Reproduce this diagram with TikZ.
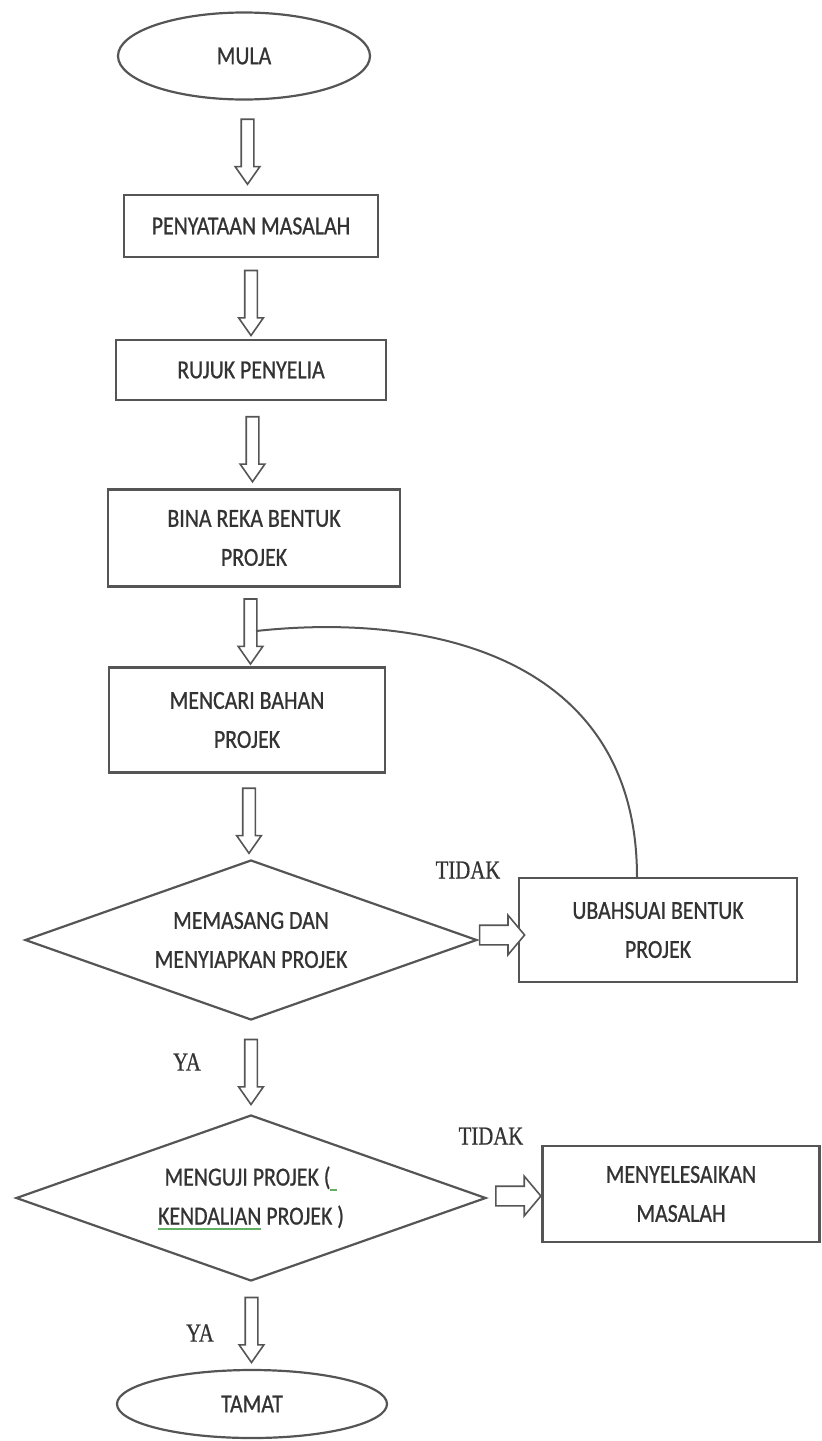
\documentclass[tikz,border=0pt]{standalone}
\usepackage{fontspec}
\setmainfont{Carlito}[FakeStretch=0.84,FakeBold=0.8]
\newfontfamily\lblfont{Liberation Serif}[FakeStretch=0.8,FakeBold=0.6]
\usetikzlibrary{shapes.geometric,shapes.arrows,calc}
\definecolor{linegray}{HTML}{555555}
\definecolor{txtgray}{HTML}{333333}
\definecolor{spellgreen}{HTML}{62B062}
\newsavebox{\spellbox}
\newcommand{\spellul}[1]{\sbox\spellbox{#1}\rlap{\color{spellgreen}\rule[-5pt]{\wd\spellbox}{1.3pt}}\usebox\spellbox}
\begin{document}
\begin{tikzpicture}[x=1pt,y=-1pt,
        flowbox/.style={draw=linegray,line width=2.2pt,text=txtgray,
            font=\fontsize{26}{39}\selectfont,align=center,inner sep=0pt},
        startstop/.style={flowbox,ellipse},
        process/.style={flowbox,rectangle},
        decision/.style={flowbox,diamond,aspect=2.83},
        dnarrow/.style={single arrow,draw=linegray,line width=1.6pt,fill=white,
            inner sep=5.5pt,minimum width=23pt,single arrow head extend=6pt,
            minimum height=65pt,single arrow tip angle=70,rotate=-90},
        rtarrow/.style={single arrow,draw=linegray,line width=1.6pt,fill=white,
            inner sep=9pt,minimum width=38pt,single arrow head extend=10pt,
            minimum height=45pt,single arrow tip angle=100},
        lbl/.style={text=black!80,font=\lblfont\fontsize{26}{30}\selectfont}]
\useasboundingbox (0,0) rectangle (822,1441);

\node[startstop,minimum width=252pt,minimum height=87pt] (mula) at (244,56) {MULA};
\node[process,minimum width=254pt,minimum height=62pt] (masalah) at (251,226) {PENYATAAN MASALAH};
\node[process,minimum width=270pt,minimum height=60pt] (rujuk) at (251,370) {RUJUK PENYELIA};
\node[process,minimum width=292pt,minimum height=97pt] (reka) at (254,538) {BINA REKA BENTUK\\PROJEK};
\node[process,minimum width=276pt,minimum height=105pt] (bahan) at (247,720) {MENCARI BAHAN\\PROJEK};
\node[decision,minimum width=452pt,minimum height=160pt] (pasang) at (251,940) {MEMASANG DAN\\MENYIAPKAN PROJEK};
\node[process,minimum width=278pt,minimum height=104pt] (ubah) at (658,930) {UBAHSUAI BENTUK\\PROJEK};
\node[decision,minimum width=470pt,minimum height=166pt] (uji) at (251,1198)
    {MENGUJI PROJEK (\spellul{\hspace{7pt}}\\\spellul{KENDALIAN} PROJEK )};
\node[process,minimum width=277pt,minimum height=96pt] (selesai) at (681,1194) {MENYELESAIKAN\\MASALAH};
\node[startstop,minimum width=270pt,minimum height=68pt] (tamat) at (252,1404) {TAMAT};

% block arrows
\node[dnarrow] (a1) at ($(mula.south)!0.5!(masalah.north)$) {};
\node[dnarrow] (a2) at ($(masalah.south)!0.5!(rujuk.north)$) {};
\node[dnarrow] (a3) at ($(rujuk.south)!0.5!(reka.north)$) {};
\node[dnarrow] (a4) at ($(reka.south)!0.5!(bahan.north)$) {};
\node[dnarrow] (a5) at ($(bahan.south)!0.5!(pasang.north)$) {};
\node[dnarrow] (a6) at ($(pasang.south)!0.5!(uji.north)$) {};
\node[dnarrow] (a7) at ($(uji.south)!0.5!(tamat.north)$) {};
\node[rtarrow] (h1) at ($(pasang.east)!0.5!(ubah.west)$) {};
\node[rtarrow] (h2) at ($(uji.east)!0.5!(selesai.west)$) {};

% loop back
\coordinate (balik) at ($(a4.center)+(5.5,4)$);
\draw[linegray,line width=2pt] ($(ubah.north)+(-21,0)$) .. controls +(0,-220) and (430,612) .. (balik);

\node[lbl] (tidak1) at (468,870) {TIDAK};
\node[lbl] (ya1) at (187,1062) {YA};
\node[lbl] (tidak2) at (491,1136) {TIDAK};
\node[lbl] (ya2) at (200,1333) {YA};
\end{tikzpicture}
\end{document}
